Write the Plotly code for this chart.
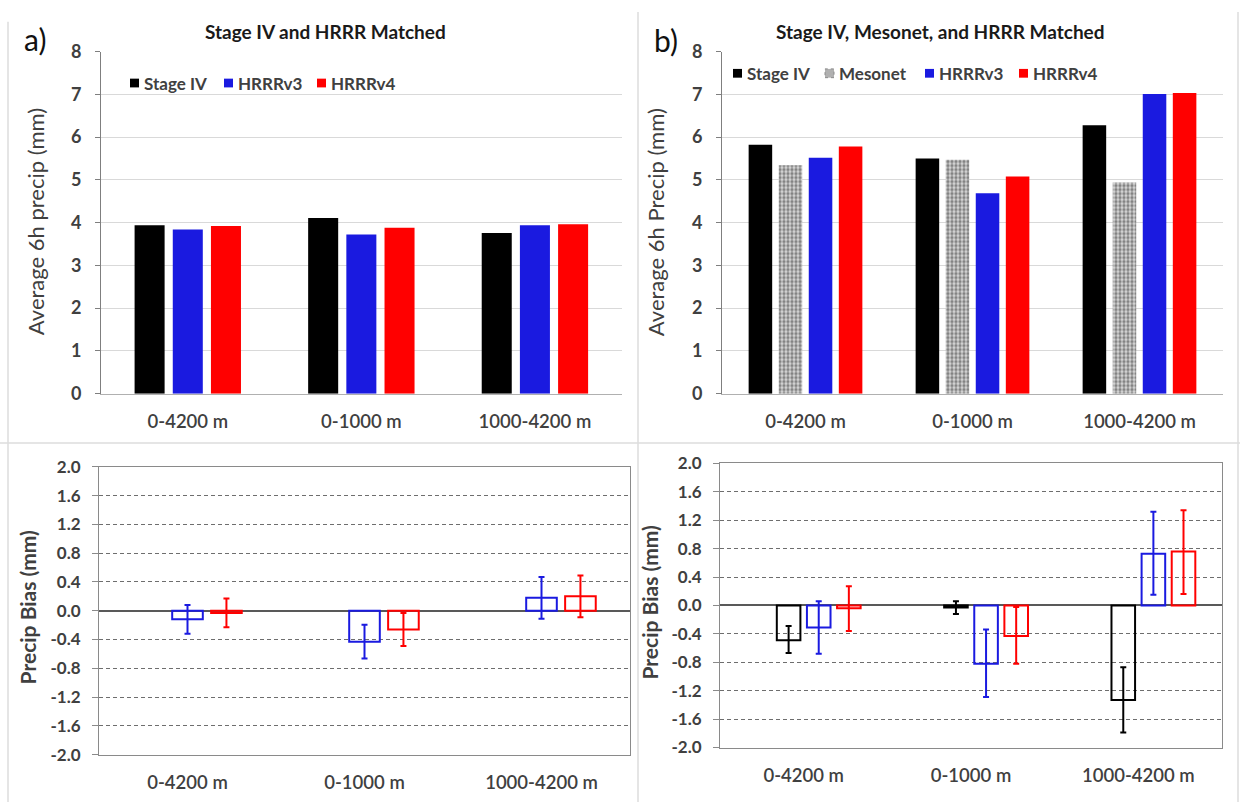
import plotly.graph_objects as go

# ---------------- data ----------------
categories = ["0-4200 m", "0-1000 m", "1000-4200 m"]

# panel a) Stage IV and HRRR matched, average 6h precip (mm)
a_stage4 = [3.94, 4.11, 3.76]
a_hrrrv3 = [3.84, 3.72, 3.94]
a_hrrrv4 = [3.92, 3.88, 3.96]

# panel b) Stage IV, Mesonet and HRRR matched, average 6h precip (mm)
b_stage4 = [5.82, 5.50, 6.28]
b_mesonet = [5.34, 5.47, 4.94]
b_hrrrv3 = [5.52, 4.69, 7.01]
b_hrrrv4 = [5.78, 5.08, 7.03]

# panel a) precip bias (mm) and error half-ranges (upper, lower)
a_bias_v3 = [-0.12, -0.43, 0.18]
a_err_v3_up = [0.20, 0.235, 0.29]
a_err_v3_dn = [0.20, 0.235, 0.29]
a_bias_v4 = [-0.03, -0.26, 0.20]
a_err_v4_up = [0.20, 0.23, 0.29]
a_err_v4_dn = [0.20, 0.23, 0.29]

# panel b) precip bias (mm) and error half-ranges (upper, lower)
b_bias_s4 = [-0.49, -0.03, -1.33]
b_err_s4_up = [0.20, 0.09, 0.46]
b_err_s4_dn = [0.18, 0.09, 0.46]
b_bias_v3 = [-0.31, -0.82, 0.73]
b_err_v3_up = [0.37, 0.48, 0.59]
b_err_v3_dn = [0.37, 0.47, 0.58]
b_bias_v4 = [-0.04, -0.43, 0.76]
b_err_v4_up = [0.31, 0.41, 0.58]
b_err_v4_dn = [0.32, 0.39, 0.60]

amount_ticks = [0, 1, 2, 3, 4, 5, 6, 7, 8]
bias_ticks = [-2.0, -1.6, -1.2, -0.8, -0.4, 0.0, 0.4, 0.8, 1.2, 1.6, 2.0]
bias_tick_labels = ["-2.0", "-1.6", "-1.2", "-0.8", "-0.4", "0.0",
                    "0.4", "0.8", "1.2", "1.6", "2.0"]

# ---------------- style ----------------
W, H = 1240, 812
FONT = "Lato"
TXT = "#404040"
BLACK = "#000000"
BLUE = "#1a1ae0"
RED = "#ff0000"

# slot geometry (category units) for the 3-bar and 4-bar groups
P3, W3 = 0.22, 0.173
P4, W4 = 0.18, 0.141
slots3 = [-P3, 0.0, P3]
slots4 = [-1.5 * P4, -0.5 * P4, 0.5 * P4, 1.5 * P4]


def px_x(v):
    return v / W


def px_y(v):
    return 1 - v / H


fig = go.Figure()


def solid_bar(xa, ya, y, color, center, width, name, pattern=None):
    marker = dict(color=color, line=dict(width=0))
    if pattern is not None:
        marker["pattern"] = pattern
    fig.add_trace(go.Bar(
        x=categories, y=y, name=name, xaxis=xa, yaxis=ya,
        offset=center - width / 2, width=width,
        marker=marker, showlegend=False, hoverinfo="x+y+name"))


def outline_bar(xa, ya, y, up, dn, color, center, width, name):
    fig.add_trace(go.Bar(
        x=categories, y=y, name=name, xaxis=xa, yaxis=ya,
        offset=center - width / 2, width=width,
        marker=dict(color="rgba(255,255,255,0)", line=dict(color=color, width=2)),
        error_y=dict(type="data", array=up, arrayminus=dn, visible=True,
                     color=color, thickness=2, width=3),
        showlegend=False, hoverinfo="x+y+name"))


# top-left
solid_bar("x", "y", a_stage4, BLACK, slots3[0], W3, "Stage IV")
solid_bar("x", "y", a_hrrrv3, BLUE, slots3[1], W3, "HRRRv3")
solid_bar("x", "y", a_hrrrv4, RED, slots3[2], W3, "HRRRv4")

# top-right
meso_pattern = dict(shape=".", fgcolor="#2e2e2e", bgcolor="#d8d8d8",
                    size=4, solidity=0.55)
solid_bar("x2", "y2", b_stage4, BLACK, slots4[0], W4, "Stage IV")
solid_bar("x2", "y2", b_mesonet, "#d8d8d8", slots4[1], W4, "Mesonet", meso_pattern)
solid_bar("x2", "y2", b_hrrrv3, BLUE, slots4[2], W4, "HRRRv3")
solid_bar("x2", "y2", b_hrrrv4, RED, slots4[3], W4, "HRRRv4")

# bottom-left
outline_bar("x3", "y3", a_bias_v3, a_err_v3_up, a_err_v3_dn, BLUE, slots3[1], W3, "HRRRv3")
outline_bar("x3", "y3", a_bias_v4, a_err_v4_up, a_err_v4_dn, RED, slots3[2], W3, "HRRRv4")

# bottom-right
outline_bar("x4", "y4", b_bias_s4, b_err_s4_up, b_err_s4_dn, BLACK, slots4[1], W4, "Stage IV")
outline_bar("x4", "y4", b_bias_v3, b_err_v3_up, b_err_v3_dn, BLUE, slots4[2], W4, "HRRRv3")
outline_bar("x4", "y4", b_bias_v4, b_err_v4_up, b_err_v4_dn, RED, slots4[3], W4, "HRRRv4")

# ---------------- axes ----------------
xcat = dict(type="category", categoryorder="array", categoryarray=categories,
            range=[-0.5, 2.5], ticks="", showgrid=False, zeroline=False,
            tickfont=dict(family=FONT, size=18.5, color=TXT, weight=600),
            ticklabelstandoff=11, fixedrange=True)

ytop = dict(range=[0, 8], tickvals=amount_ticks, showgrid=True,
            gridcolor="#d9d9d9", gridwidth=1, zeroline=False,
            showline=True, linecolor="#7f7f7f", linewidth=1,
            ticks="outside", ticklen=5, tickcolor="#7f7f7f",
            tickfont=dict(family=FONT, size=18, color=TXT, weight=700),
            ticklabelstandoff=10, fixedrange=True)

ybot = dict(range=[-2, 2], tickvals=bias_ticks, ticktext=bias_tick_labels,
            showgrid=True, gridcolor="#6e6e6e", gridwidth=1, griddash="4px,3px",
            zeroline=True, zerolinecolor="#595959", zerolinewidth=1.5,
            showline=True, mirror=True, linecolor="#8a8a8a", linewidth=1,
            ticks="outside", ticklen=6, tickcolor="#8a8a8a",
            tickfont=dict(family=FONT, size=17, color=TXT, weight=700),
            ticklabelstandoff=8, fixedrange=True)

# domains in pixels: (left, right, top, bottom)
boxes = {
    "1": (101, 621.7, 40.7, 392.3),
    "2": (722, 1223, 40.7, 392.3),
    "3": (99, 630, 467.5, 763.3),
    "4": (720, 1222, 464, 756),
}

layout_axes = {}
for k, (l, r, t, b) in boxes.items():
    xn = "xaxis" if k == "1" else f"xaxis{k}"
    yn = "yaxis" if k == "1" else f"yaxis{k}"
    anchor_x = "x" if k == "1" else f"x{k}"
    anchor_y = "y" if k == "1" else f"y{k}"
    xd = dict(xcat, domain=[px_x(l), px_x(r)], anchor=anchor_y)
    if k in ("1", "2"):
        xd.update(showline=True, linecolor="#b0b0b0", linewidth=1)
        yd = dict(ytop)
    else:
        xd.update(showline=True, mirror=True, linecolor="#8a8a8a", linewidth=1)
        yd = dict(ybot)
    yd.update(domain=[px_y(b), px_y(t)], anchor=anchor_x)
    layout_axes[xn] = xd
    layout_axes[yn] = yd

# ---------------- text ----------------
ann = []


def text(x, y, s, size, color=TXT, bold=False, angle=0, xanchor="center", weight=None):
    if weight is None:
        weight = 700 if bold else 400
    ann.append(dict(x=px_x(x), y=px_y(y), xref="paper", yref="paper", text=s,
                    showarrow=False, xanchor=xanchor, yanchor="middle",
                    textangle=angle,
                    font=dict(family=FONT, size=size, color=color, weight=weight)))


text(35, 28, "a)", 30, color="#111111")
text(666, 29, "b)", 30, color="#111111")
text(325, 20, "Stage IV and HRRR Matched", 19, color="#1a1a1a", bold=True)
text(940, 20, "Stage IV, Mesonet, and HRRR Matched", 19, color="#1a1a1a", bold=True)
text(35, 216, "Average 6h precip (mm)", 22, angle=-90)
text(655, 216, "Average 6h Precip (mm)", 22, angle=-90)
text(27, 612, "Precip Bias (mm)", 21, bold=True, angle=-90)
text(650, 607, "Precip Bias (mm)", 21, bold=True, angle=-90)

shapes = []

# panel frames
for x0, y0, x1, y1 in [(638, 0, 638, 812), (0, 443, 1240, 443),
                       (8, 10, 8, 812), (1238, 0, 1238, 812)]:
    shapes.append(dict(type="line", xref="paper", yref="paper",
                       x0=px_x(x0), y0=px_y(y0), x1=px_x(x1), y1=px_y(y1),
                       line=dict(color="#dcdcdc", width=1.5), layer="below"))


def key(x_sq, y, label, color, size_sq=9, line=None):
    shapes.append(dict(type="rect", xref="paper", yref="paper",
                       x0=px_x(x_sq), x1=px_x(x_sq + size_sq),
                       y0=px_y(y + size_sq / 2), y1=px_y(y - size_sq / 2),
                       fillcolor=color, line=dict(width=0) if line is None else line))
    text(x_sq + size_sq + 3, y, label, 17, bold=True, xanchor="left")


# legend, panel a)
key(130, 73, "Stage IV", BLACK)
key(224, 73, "HRRRv3", BLUE)
key(317, 73, "HRRRv4", RED)
# legend, panel b)
key(733, 63, "Stage IV", BLACK)
key(825, 63, "Mesonet", "#b0b0b0", line=dict(color="#8a8a8a", width=1, dash="dot"))
key(925, 63, "HRRRv3", BLUE)
key(1019, 63, "HRRRv4", RED)

fig.update_layout(
    width=W, height=H, margin=dict(l=0, r=0, t=0, b=0),
    paper_bgcolor="white", plot_bgcolor="white",
    barmode="overlay", showlegend=False,
    annotations=ann, shapes=shapes,
    font=dict(family=FONT, color=TXT),
    **layout_axes,
)

fig.write_html("out.html")
